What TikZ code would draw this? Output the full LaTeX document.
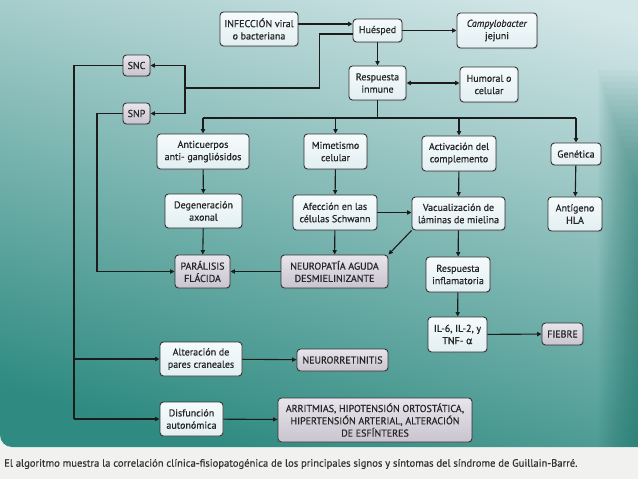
\documentclass[tikz,border=0pt]{standalone}
\usepackage{fontspec}
\setmainfont{PT Sans}[FakeBold=0.6]
\newfontfamily\grk{DejaVu Sans}[FakeBold=0.6]
\usetikzlibrary{arrows.meta,shadows}
\definecolor{pagec}{HTML}{F1F1EF}
\definecolor{topc}{HTML}{D3E6E8}
\definecolor{midc}{HTML}{8AC2BF}
\definecolor{botc}{HTML}{2F8B81}
\definecolor{edgec}{HTML}{1A7268}
\definecolor{boxtop}{HTML}{F6FBFC}
\definecolor{boxbot}{HTML}{E2EFF2}
\definecolor{graytop}{HTML}{E8E5EC}
\definecolor{graybot}{HTML}{C9C4CF}
\definecolor{bordc}{HTML}{333333}
\definecolor{linec}{HTML}{1C1C1C}
\definecolor{textc}{HTML}{262626}
\definecolor{capc}{HTML}{333333}
\tikzset{
  box/.style={draw=bordc, line width=0.9pt, rounded corners=3.5pt,
    top color=boxtop, bottom color=boxbot, align=center, inner sep=1pt,
    text=textc, font=\fontsize{10}{12.3}\selectfont,
    drop shadow={shadow xshift=1pt, shadow yshift=-1pt, opacity=0.3}},
  gbox/.style={box, top color=graytop, bottom color=graybot},
  wh/.style 2 args={minimum width=#1, minimum height=#2},
  ln/.style={draw=linec, line width=1.1pt},
  arr/.style={ln, -{Triangle[length=4.5pt,width=4.2pt]}},
  darr/.style={ln, {Triangle[length=4.5pt,width=4.2pt]}-{Triangle[length=4.5pt,width=4.2pt]}}
}
\begin{document}
\begin{tikzpicture}[x=1pt,y=-1pt]
\useasboundingbox (0,0) rectangle (638,479);
\fill[pagec] (0,0) rectangle (638,479);
\shade[rounded corners=12pt, top color=topc, middle color=midc, bottom color=botc, shading angle=-15]
  (0,-30) rectangle (670,447);
% darker band near the right edge
\foreach \i in {0,...,19}{
  \fill[edgec, opacity=0.035] (598+2*\i,70+6*\i) rectangle (638,447);
}

% nodes
\node[box,wh={78}{34}] (inf) at (259,29) {INFECCIÓN viral\\o bacteriana};
\node[box,wh={49}{23}] (hue) at (377.5,30.5) {Huésped};
\node[box,wh={80}{35}] (cam) at (497,30.5) {\textit{Campylobacter}\\jejuni};
\node[box,wh={57}{34}] (res) at (377.5,83) {Respuesta\\inmune};
\node[box,wh={58}{35}] (hum) at (489,84.5) {Humoral o\\celular};
\node[gbox,wh={27}{21}] (snc) at (136.5,65.5) {SNC};
\node[gbox,wh={27}{21}] (snp) at (136.5,113.5) {SNP};
\node[box,wh={92}{35}] (anti) at (203,151.5) {Anticuerpos\\anti- gangliósidos};
\node[box,wh={63}{35}] (mim) at (335.5,151.5) {Mimetismo\\celular};
\node[box,wh={74}{35}] (act) at (459,153.5) {Activación del\\complemento};
\node[box,wh={50}{22}] (gen) at (576,154) {Genética};
\node[box,wh={77}{34}] (deg) at (203.5,211) {Degeneración\\axonal};
\node[box,wh={84}{35}] (afe) at (335,212.5) {Afección en las\\células Schwann};
\node[box,wh={93}{33}] (vac) at (458.5,213.5) {Vacualización de\\láminas de mielina};
\node[box,wh={54}{34}] (ant) at (575,214) {Antígeno\\HLA};
\node[gbox,wh={55}{33}] (par) at (202.5,271.5) {PARÁLISIS\\FLÁCIDA};
\node[gbox,wh={107}{33}] (neu) at (334.5,271.5) {NEUROPATÍA AGUDA\\DESMIELINIZANTE};
\node[box,wh={64}{35}] (rin) at (458,274.5) {Respuesta\\inflamatoria};
\node[box,wh={59}{35}] (il) at (457.5,334.5) {IL-6, IL-2, y\\TNF- {\grk α}};
\node[gbox,wh={41}{22}] (fie) at (562.5,334) {FIEBRE};
\node[box,wh={82}{34}] (alt) at (201,359) {Alteración de\\pares craneales};
\node[gbox,wh={91}{22}] (neur) at (342.5,360) {NEURORRETINITIS};
\node[box,wh={63}{34}] (dis) at (191.5,419) {Disfunción\\autonómica};
\node[gbox,wh={194}{44}] (arrit) at (375,420) {ARRITMIAS, HIPOTENSIÓN ORTOSTÁTICA,\\HIPERTENSIÓN ARTERIAL, ALTERACIÓN\\DE ESFÍNTERES};

\node[anchor=west, text=capc, font=\fontsize{10.6}{12}\selectfont, inner sep=0pt] (cap) at (4,464)
  {El algoritmo muestra la correlación clínica-fisiopatogénica de los principales signos y síntomas del síndrome de Guillain-Barré.};

% connectors
\coordinate (a1) at ([yshift=5pt]inf.east);
\draw[arr] (a1) -- (a1 -| hue.west);
\draw[arr] (hue.east) -- (cam.west);
\draw[arr] (hue.south) -- (res.north);
\draw[darr] (res.east) -- (res.east -| hum.west);

\coordinate (b1) at ([yshift=-3.5pt]hue.west);
\coordinate (jn) at (185,88);
\draw[ln] (b1) -- ++(-33,0) |- (jn);
\draw[arr] (jn) |- (snc.east);
\draw[arr] (jn) |- (snp.east);

\coordinate (vl) at (74,0);
\coordinate (vl2) at (97,0);
\draw[ln] (snc.west) -| (vl |- dis.west);
\draw[arr] (vl |- dis.west) -- (dis.west);
\draw[arr] (vl |- alt.west) -- (alt.west);
\draw[arr] (snp.west) -| (vl2 |- par.west) -- (par.west);

\coordinate (br) at (377.5,118);
\draw[ln] (res.south) -- (br);
\draw[ln] (anti.north |- br) -- (gen.north |- br);
\draw[arr] (anti.north |- br) -- (anti.north);
\draw[arr] (mim.north |- br) -- (mim.north);
\draw[arr] (act.north |- br) -- (act.north);
\draw[arr] (gen.north |- br) -- (gen.north);

\draw[arr] (anti) -- (deg);
\draw[arr] (deg) -- (par);
\draw[arr] (mim) -- (afe);
\draw[arr] (afe) -- (neu);
\draw[arr] (afe.east) -- (afe.east -| vac.west);
\draw[arr] (act) -- (vac);
\draw[arr] (vac.south west) -- (neu.north east);
\draw[arr] (vac) -- (rin);
\draw[arr] (rin) -- (il);
\draw[arr] (il) -- (fie);
\draw[arr] (gen) -- (ant);
\draw[arr] (neu) -- (par);
\draw[arr] (alt) -- (neur);
\draw[arr] (dis) -- (arrit);
\end{tikzpicture}
\end{document}
